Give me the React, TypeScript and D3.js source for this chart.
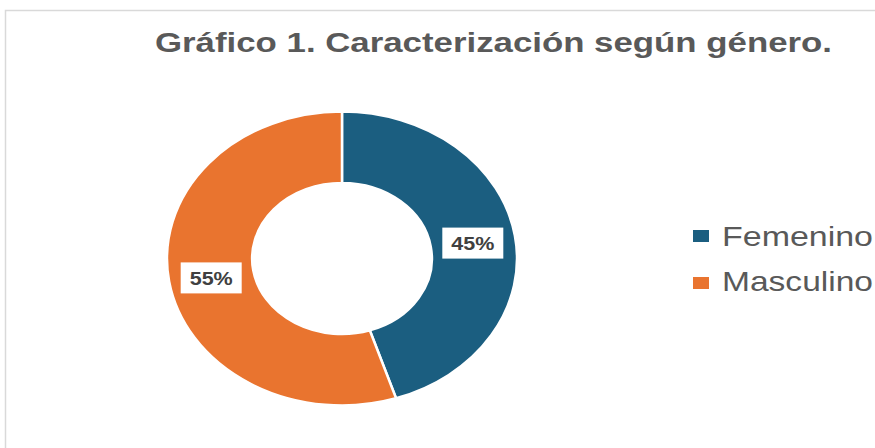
import React from "react";
import * as d3 from "d3";

const categories = ["Femenino", "Masculino"];
const values = [45, 55];
const labels = ["45%", "55%"];
const colors = ["#1B5E80", "#E9742F"];
const title = "Gráfico 1. Caracterización según género.";

export default function App() {
  const W = 875, H = 448;
  const cx = 342, cy = 258.5;
  const ry = 147, ryIn = 75.5;
  const sx = 175 / 147;

  const pie = d3.pie<number>().sort(null).value((d) => d)(values);
  const arc = d3.arc<d3.PieArcDatum<number>>().innerRadius(ryIn).outerRadius(ry);

  return (
    <svg width={W} height={H} style={{ position: "absolute", left: 0, top: 0, background: "#fff" }}
      fontFamily="'Liberation Sans', Arial, sans-serif">
      <rect x={5.5} y={10.5} width={900} height={500} fill="#fff" stroke="#d9d9d9" strokeWidth={1.5} />
      <text x={155} y={52} fontSize={27} fontWeight="bold" fill="#595959" textLength={677} lengthAdjust="spacingAndGlyphs">{title}</text>
      <g transform={`translate(${cx},${cy}) scale(${sx},1)`}>
        {pie.map((p, i) => (
          <path key={i} d={arc(p) || ""} fill={colors[i]} stroke="#fff" strokeWidth={2.5} vectorEffect="non-scaling-stroke" />
        ))}
      </g>
      {pie.map((p, i) => {
        const [x0, y0] = arc.centroid(p);
        const x = cx + x0 * sx;
        const y = cy + y0 + 2;
        return (
          <g key={i}>
            <rect x={x - 30.5} y={y - 15.5} width={61} height={31} fill="#fff" />
            <text x={x} y={y + 7} textAnchor="middle" fontSize={19} fontWeight="bold" fill="#404040" textLength={43} lengthAdjust="spacingAndGlyphs">{labels[i]}</text>
          </g>
        );
      })}
      {categories.map((c, i) => (
        <g key={c}>
          <rect x={693} y={230 + i * 47} width={16} height={12} fill={colors[i]} />
          <text x={722} y={246 + i * 45} fontSize={28} fill="#595959" textLength={151} lengthAdjust="spacingAndGlyphs">{c}</text>
        </g>
      ))}
    </svg>
  );
}
